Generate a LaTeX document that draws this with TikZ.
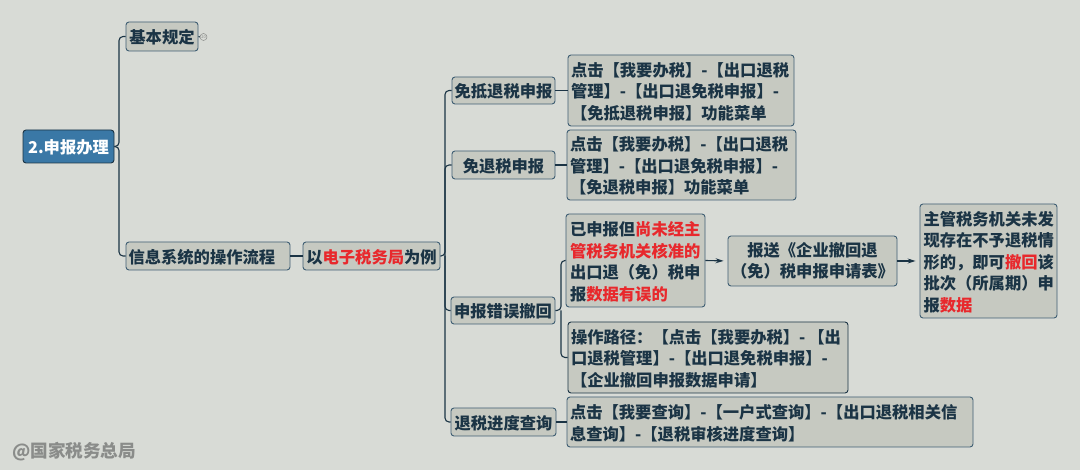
\documentclass[tikz,border=0pt]{standalone}
\usepackage{fontspec}
\setmainfont{Noto Sans CJK SC}
\usetikzlibrary{arrows.meta}
\definecolor{paper}{HTML}{D8DBD6}
\definecolor{boxfill}{HTML}{C6C9C1}
\definecolor{boxline}{HTML}{3F5E73}
\definecolor{ink}{HTML}{1B3445}
\definecolor{rootfill}{HTML}{3A78A6}
\definecolor{hot}{HTML}{E8282C}
\definecolor{mark}{HTML}{8A8C8A}
\newcommand{\hot}[1]{\textcolor{hot}{#1}}
\tikzset{
  topic/.style={draw=boxline, fill=boxfill, line width=0.9pt, rounded corners=3pt, text=ink,
    font=\fontsize{16.3}{21.5}\selectfont\bfseries, inner xsep=0pt, inner ysep=0pt, align=center,
    execute at begin node={\rule{0pt}{16.5pt}}},
  textbox/.style={topic, align=left},
  link/.style={draw=ink, line width=1.1pt, rounded corners=4pt},
  tip/.style={link, -{Stealth[length=8pt,width=5pt]}, shorten >=4pt},
}
\begin{document}
\begin{tikzpicture}[x=1pt,y=-1pt]
\fill[paper] (0,0) rectangle (1080,470);
\useasboundingbox (0,0) rectangle (1080,470);
% left part
\node[topic, fill=rootfill, draw=ink, text=white, minimum width=91pt, minimum height=33pt] (root) at (68.5,146.5) {2.申报办理};
\node[topic, minimum width=72pt, minimum height=29pt] (basic) at (162,36.5) {基本规定};
\node[textbox, minimum width=164pt, minimum height=28pt, text width=159pt] (flow) at (208,256) {信息系统的操作流程};
\node[topic, minimum width=137pt, minimum height=28pt] (etax) at (371.5,256) {以\hot{电子税务局}为例};
\node[draw=mark, circle, line width=0.5pt, inner sep=0pt, minimum size=7pt, text=mark, font=\fontsize{4}{4}\selectfont] (more) at (203.5,37) {20};
% middle column
\node[topic, minimum width=103pt, minimum height=27pt] (dikou) at (503.5,90.5) {免抵退税申报};
\node[topic, minimum width=103pt, minimum height=28pt] (mian) at (503.5,165) {免退税申报};
\node[topic, minimum width=104pt, minimum height=27pt] (wrong) at (503,310.5) {申报错误撤回};
\node[topic, minimum width=105pt, minimum height=28pt] (query) at (503.5,422) {退税进度查询};
% right boxes
\node[textbox, minimum width=226pt, minimum height=71pt, text width=220pt] (pathA) at (681,90.5) {点击【我要办税】-【出口退税\\管理】-【出口退免税申报】-\\【免抵退税申报】功能菜单};
\node[textbox, minimum width=229pt, minimum height=70pt, text width=223pt] (pathB) at (681.5,165) {点击【我要办税】-【出口退税\\管理】-【出口退免税申报】-\\【免退税申报】功能菜单};
\node[textbox, minimum width=139pt, minimum height=93pt, text width=131pt] (case) at (635.5,260.5) {已申报但\hot{尚未经主}\\\hot{管税务机关核准的}\\出口退（免）税申\\报\hot{数据有误的}};
\node[topic, minimum width=169pt, minimum height=50pt] (form) at (812.5,261) {报送《企业撤回退\\（免）税申报申请表》};
\node[textbox, minimum width=137pt, minimum height=114pt, text width=130pt] (result) at (988.5,261) {主管税务机关未发\\现存在不予退税情\\形的，即可\hot{撤回}该\\批次（所属期）申\\报\hot{数据}};
\node[textbox, draw=ink, minimum width=280pt, minimum height=71pt, text width=274pt] (pathC) at (708,357.5) {操作路径：【点击【我要办税】-\hspace{3pt}【出\\口退税管理】-【出口退免税申报】-\\【企业撤回申报数据申请】};
\node[textbox, minimum width=406pt, minimum height=50pt, text width=400pt] (pathD) at (770,422) {点击【我要查询】-【一户式查询】-【出口退税相关信\\息查询】-【退税审核进度查询】};
\node[text=mark, font=\fontsize{17.6}{17.6}\selectfont\bfseries, anchor=west, inner sep=0pt] (logo) at (12,452) {@国家税务总局};
% connectors
\coordinate (spineA) at (119,146.5);
\coordinate (spineB) at (445,256);
\coordinate (spineC) at (561,310.5);
\draw[link] (root.east) -- (spineA) |- (basic.west);
\draw[link] (root.east) -- (spineA) |- (flow.west);
\draw[link] (flow.east) -- (etax.west);
\draw[link] (basic.east) -- (more.west);
\draw[link] (etax.east) -- (spineB) |- (dikou.west);
\draw[link] (spineB) |- (mian.west);
\draw[link] (spineB) |- (wrong.west);
\draw[link] (spineB) |- (query.west);
\draw[link] (dikou.east) -- (pathA.west);
\draw[link] (mian.east) -- (pathB.west);
\draw[link] (query.east) -- (pathD.west);
\draw[link] (wrong.east) -- (spineC) |- (case.west);
\draw[link] (spineC) |- (pathC.west);
\draw[tip] (case.east) -- (form.west);
\draw[tip] (form.east) -- (result.west);
\end{tikzpicture}
\end{document}
